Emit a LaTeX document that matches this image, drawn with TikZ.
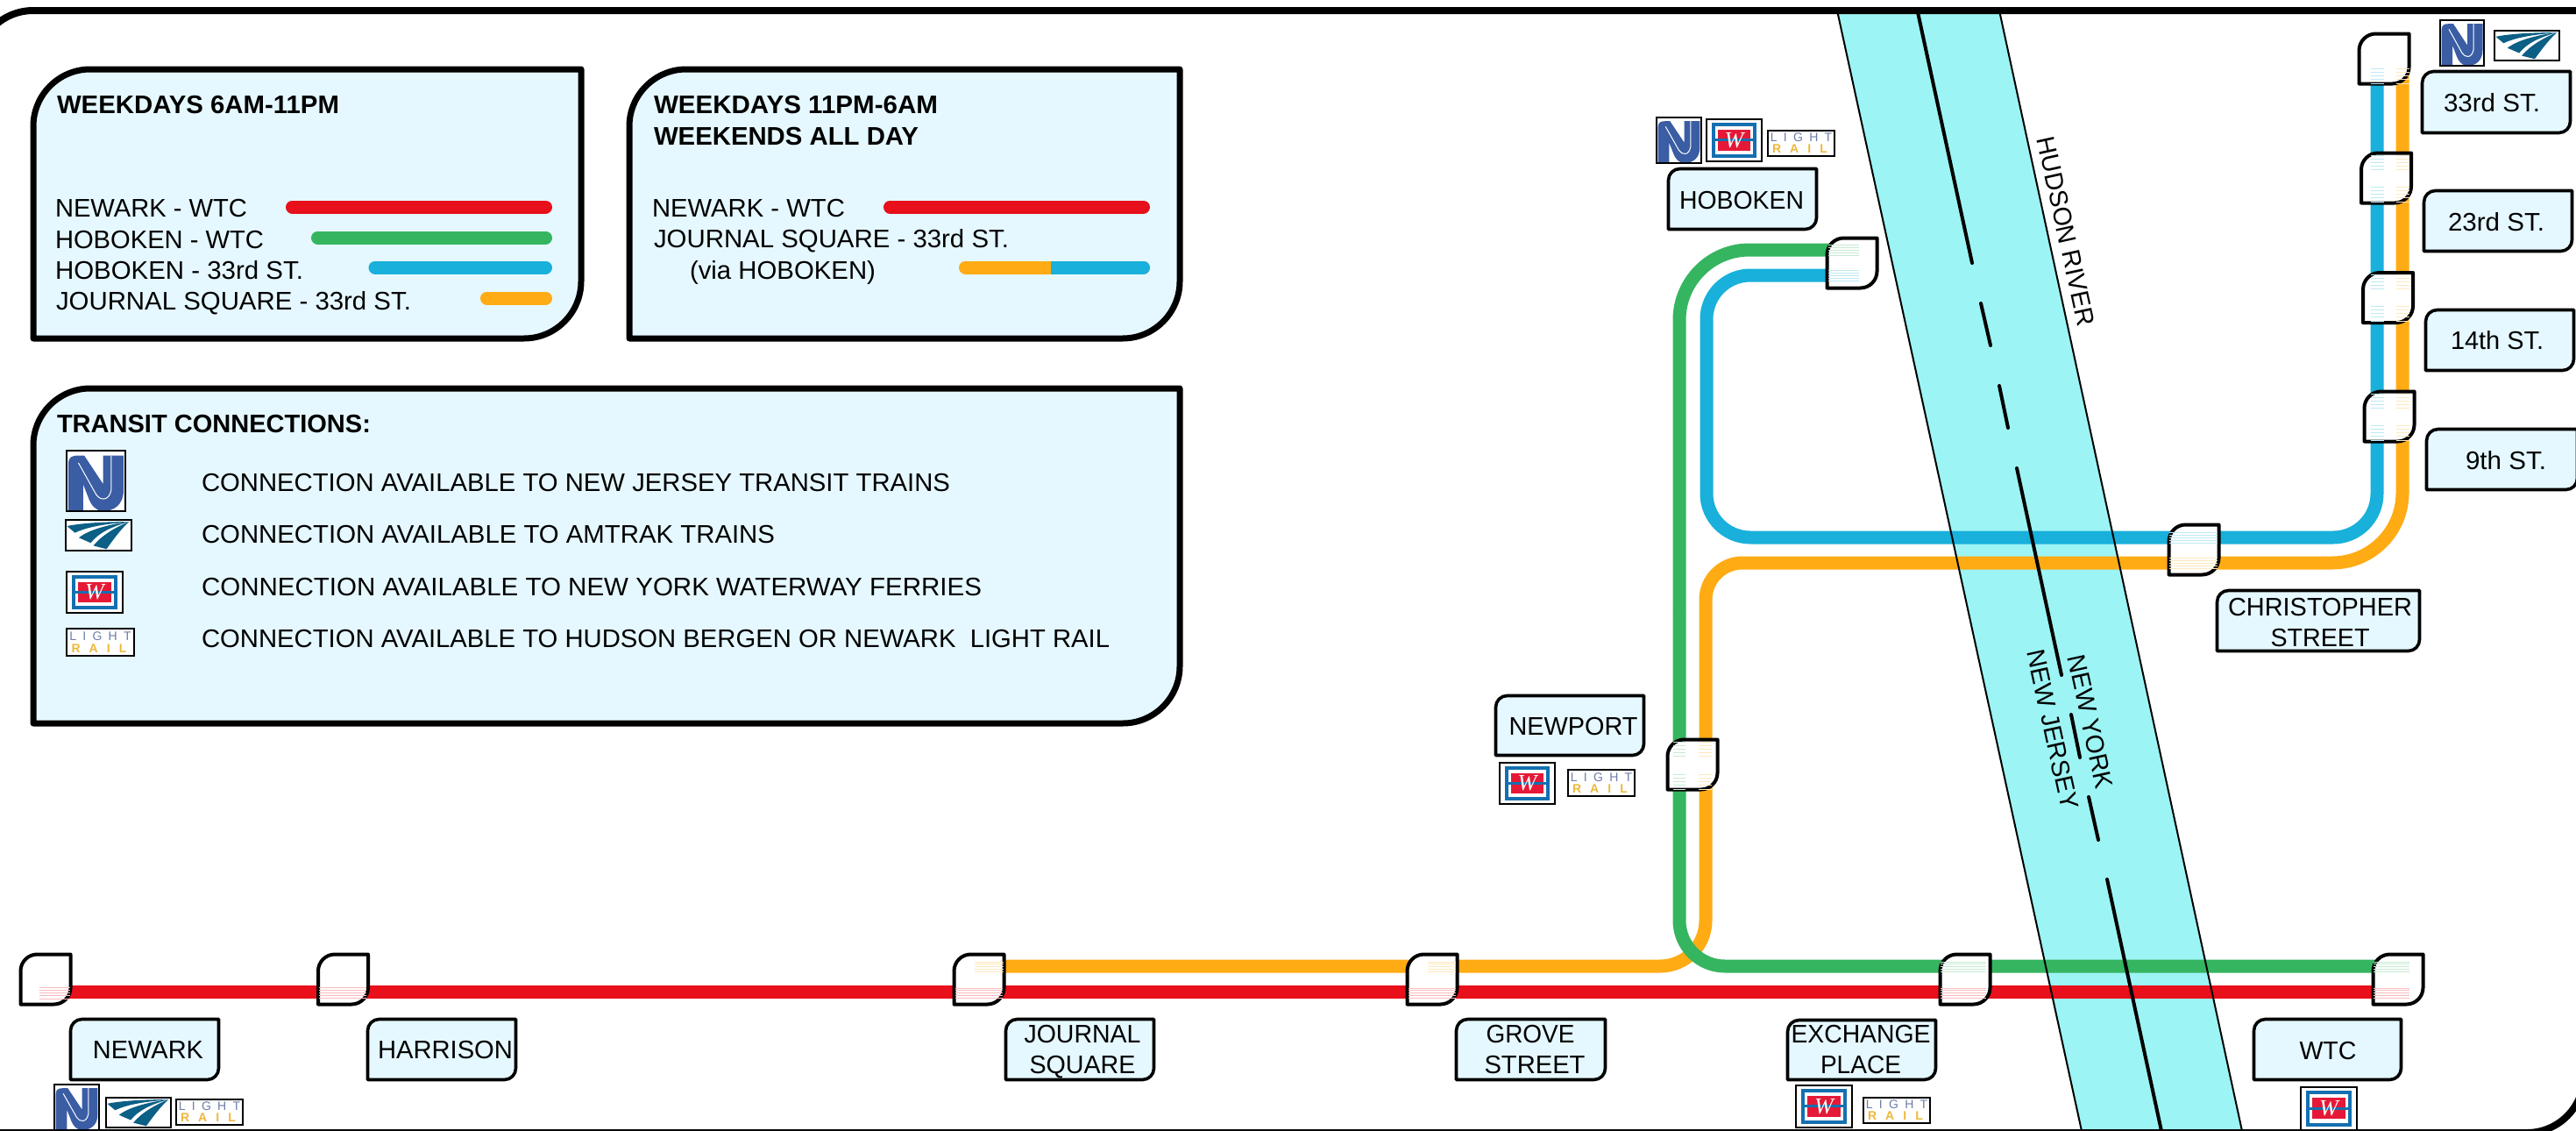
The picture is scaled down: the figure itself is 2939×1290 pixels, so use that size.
\documentclass[tikz,border=0pt]{standalone}
\usepackage{fontspec}
\setmainfont{Liberation Sans}
\newfontfamily\lrtop[LetterSpace=52]{Liberation Sans}
\newfontfamily\lrbot[LetterSpace=72]{Liberation Sans}
\newfontfamily\ferryfont[Ligatures=TeX]{Liberation Serif}
\definecolor{lnred}{HTML}{E8101A}
\definecolor{lngreen}{HTML}{35B560}
\definecolor{lnblue}{HTML}{19B0DB}
\definecolor{lnorange}{HTML}{FFAB14}
\definecolor{boxfill}{HTML}{E5F8FF}
\definecolor{riverc}{HTML}{9DF4F4}
\definecolor{njblue}{HTML}{3A5DA4}
\definecolor{amteal}{HTML}{0C5F85}
\definecolor{ferryblue}{HTML}{1470B0}
\definecolor{ferryred}{HTML}{E51937}
\definecolor{lrgrey}{HTML}{6C7DA8}
\definecolor{lrgold}{HTML}{EDB83C}
\newdimen\pxu \pxu=0.5pt
\newcount\iconno
\tikzset{
  txt/.style={inner sep=0pt,outer sep=0pt,font=\fontsize{14.5}{17}\selectfont},
  boldtxt/.style={txt,font=\fontsize{14.5}{17}\selectfont\bfseries},
  route/.style={line width=7.5pt,line cap=butt,line join=round},
  keyline/.style={line width=7.5pt,line cap=round},
  bigbox/.style={draw=black,fill=boxfill,line width=3.5pt,line join=round},
  labelbox/.style={draw=black,fill=boxfill,line width=1.8pt,line join=round},
  stationbox/.style={draw=black,fill=white,line width=2pt,line join=round},
  framebox/.style={draw=black,line width=4pt},
  riveredge/.style={draw=black,line width=1pt},
  borderdash/.style={draw=black,line width=2pt,line cap=round},
  iconframe/.style={draw=black,line width=1.1pt},
}
% corner box: rounded top-left and bottom-right
\newcommand{\cbox}[6]{%
  \draw[#1] ({#2},{#3+#6}) .. controls ({#2},{#3+.45*#6}) and ({#2+.45*#6},{#3}) .. ({#2+#6},{#3})
    -- ({#4},{#3}) -- ({#4},{#5-#6})
    .. controls ({#4},{#5-.45*#6}) and ({#4-.45*#6},{#5}) .. ({#4-#6},{#5})
    -- ({#2},{#5}) -- cycle;}
\newcommand{\lbox}[4]{\cbox{labelbox}{#1+1.5}{#2+1.5}{#3-1.5}{#4-1.5}{13}}
\newcommand{\stn}[3]{%
  \cbox{stationbox}{#2-28.5}{#3-28.5}{#2+28.5}{#3+28.5}{19}
  \coordinate (#1) at (#2,#3);}
\newcommand{\stp}[5]{%
  \foreach \t in {0,.25,.5,.75,1}
    \draw[line width=.45pt,#5!28] (#1,{#3+\t*(#4-#3)}) -- (#2,{#3+\t*(#4-#3)});}
\newcommand{\fitw}[2]{\resizebox{#1\pxu}{\height}{#2}}
\newcommand{\ctext}[5]{\node[txt,anchor=base] (#1) at (#2,#3) {\fitw{#4}{#5}};}
\newcommand{\ltext}[5]{\node[txt,anchor=base west] (#1) at (#2,#3) {\fitw{#4}{#5}};}
\newcommand{\btext}[5]{\node[boldtxt,anchor=base west] (#1) at (#2,#3) {\fitw{#4}{#5}};}
\newcommand{\njicon}[4]{%
  \pgfmathsetmacro{\iw}{(#3-#1)*0.5}\pgfmathsetmacro{\ih}{(#4-#2)*0.5}
  \begin{scope}[shift={(#1,#2)},x=\iw pt,y=-\ih pt]
    \fill[white] (0,0) rectangle (1,1);
    \fill[njblue] (.03,1) -- (.03,.22) .. controls (.03,.1) and (.1,.08) .. (.2,.08) -- (.3,.08) -- (.62,.55) -- (.62,.08) -- (.97,.08) -- (.97,.65)
      .. controls (.97,.9) and (.8,1) .. (.62,1) .. controls (.5,1) and (.42,.9) .. (.38,.8) -- (.28,.55) -- (.28,1) -- cycle;
    \draw[white,line width=.5pt] (.2,.2) -- (.5,.72) .. controls (.56,.82) and (.72,.85) .. (.76,.65) -- (.76,.08);
    \draw[iconframe] (0,0) rectangle (1,1);
  \end{scope}}
\newcommand{\amicon}[4]{%
  \pgfmathsetmacro{\iw}{(#3-#1)*0.5}\pgfmathsetmacro{\ih}{(#4-#2)*0.5}
  \begin{scope}[shift={(#1,#2)},x=\iw pt,y=-\ih pt]
    \fill[white] (0,0) rectangle (1,1);
    \fill[amteal] (.02,.2) .. controls (.3,.08) and (.7,.06) .. (.96,.06) .. controls (.65,.13) and (.35,.2) .. (.14,.42) -- cycle;
    \fill[amteal] (.2,.58) .. controls (.35,.32) and (.65,.15) .. (.96,.06) .. controls (.7,.22) and (.5,.42) .. (.38,.75) -- cycle;
    \fill[amteal] (.42,.84) .. controls (.55,.5) and (.75,.25) .. (.96,.06) .. controls (.82,.35) and (.72,.65) .. (.62,.95) -- cycle;
    \draw[iconframe] (0,0) rectangle (1,1);
  \end{scope}}
\newcommand{\feicon}[4]{%
  \global\advance\iconno by 1
  \pgfmathsetmacro{\iw}{(#3-#1)*0.5}\pgfmathsetmacro{\ih}{(#4-#2)*0.5}
  \begin{scope}[shift={(#1,#2)},x=\iw pt,y=-\ih pt]
    \fill[white] (0,0) rectangle (1,1);
    \draw[ferryblue,line width=2pt] (.12,.13) rectangle (.88,.87);
    \fill[ferryred] (.2,.25) rectangle (.8,.74);
    \draw[ferryblue,line width=1.6pt,line cap=round] (.14,.495) -- (.86,.495);
    \node[inner sep=0pt,text=white,font=\ferryfont\itshape\fontsize{13}{13}\selectfont] (ferry\the\iconno) at (.5,.5) {W};
    \draw[iconframe] (0,0) rectangle (1,1);
  \end{scope}}
\newcommand{\lricon}[4]{%
  \global\advance\iconno by 1
  \pgfmathsetmacro{\iw}{(#3-#1)*0.5}\pgfmathsetmacro{\ih}{(#4-#2)*0.5}
  \begin{scope}[shift={(#1,#2)},x=\iw pt,y=-\ih pt]
    \fill[white] (0,0) rectangle (1,1);
    \node[inner sep=0pt,anchor=base,text=lrgrey,font=\lrtop\fontsize{7}{7}\selectfont] (lrup\the\iconno) at (.5,.44) {LIGHT};
    \node[inner sep=0pt,anchor=base,text=lrgold,font=\lrbot\fontsize{7}{7}\selectfont\bfseries] (lrdn\the\iconno) at (.48,.88) {RAIL};
    \draw[iconframe,line width=.9pt] (0,0) rectangle (1,1);
  \end{scope}}
\begin{document}
\begin{tikzpicture}[x=0.5pt,y=-0.5pt]
\useasboundingbox (0,0) rectangle (2939,1290);
\fill[white] (0,0) rectangle (2939,1290);

% river
\coordinate (rvA) at (2096,12);
\coordinate (rvB) at (2281,12);
\coordinate (rvC) at (2558,1290);
\coordinate (rvD) at (2375,1290);
\fill[riverc] (rvA) -- (rvB) -- (rvC) -- (rvD) -- cycle;

% route points
\coordinate (rA) at (52,1131.7);
\coordinate (rB) at (2736,1131.7);
\coordinate (gA) at (2113,285);
\coordinate (gB) at (1916,285);
\coordinate (gC) at (1916,700);
\coordinate (gD) at (1916,1102);
\coordinate (gE) at (2736,1102);
\coordinate (bA) at (2113,314);
\coordinate (bB) at (1947,314);
\coordinate (bC) at (1947,613);
\coordinate (bD) at (2712,613);
\coordinate (bE) at (2712,67);
\coordinate (oA) at (1117,1102);
\coordinate (oB) at (1946,1102);
\coordinate (oC) at (1946,800);
\coordinate (oD) at (1946,642);
\coordinate (oE) at (2300,642);
\coordinate (oF) at (2741,642);
\coordinate (oG) at (2741,67);

\draw[route,lnred] (rA) -- (rB);
\draw[route,lnorange,rounded corners=26pt] (oA) -- (oB) -- (oC);
\draw[route,lnorange,rounded corners=21pt] (oC) -- (oD) -- (oE);
\draw[route,lnorange,rounded corners=40pt] (oE) -- (oF) -- (oG);
\draw[route,lngreen,rounded corners=40pt] (gA) -- (gB) -- (gC);
\draw[route,lngreen,rounded corners=26pt] (gC) -- (gD) -- (gE);
\draw[route,lnblue,rounded corners=25pt] (bA) -- (bB) -- (bC) -- (bD) -- (bE);

\draw[riveredge] (rvA) -- (rvD);
\draw[riveredge] (rvB) -- (rvC);
\coordinate (dA1) at (2188,14);  \coordinate (dA2) at (2250,300);
\coordinate (dB1) at (2260,346); \coordinate (dB2) at (2271,394);
\coordinate (dC1) at (2281,440); \coordinate (dC2) at (2291,488);
\coordinate (dD1) at (2301,534); \coordinate (dD2) at (2352,770);
\coordinate (dE1) at (2363,815); \coordinate (dE2) at (2373,864);
\coordinate (dF1) at (2383,909); \coordinate (dF2) at (2394,958);
\coordinate (dG1) at (2404,1003);\coordinate (dG2) at (2466,1290);
\foreach \n in {A,B,C,D,E,F,G} \draw[borderdash] (d\n1) -- (d\n2);
\node[txt,rotate=-77.6] (hudson) at (2357,264) {\fitw{220}{HUDSON RIVER}};
\node[txt,rotate=-77.6] (newyork) at (2385,823) {\fitw{155}{NEW YORK}};
\node[txt,rotate=-77.6] (newjersey) at (2342,832) {\fitw{186}{NEW JERSEY}};

% outer frame
\cbox{framebox}{-27}{12}{2948}{1292}{65}

% stations
\stn{sNewark}{52}{1117}
\stp{45}{80}{1126}{1139}{lnred}
\stn{sHarrison}{391.5}{1117}
\stp{364}{418}{1126}{1138}{lnred}
\stn{sJournal}{1117}{1117}
\stp{1112}{1145}{1097}{1108}{lnorange}
\stp{1090}{1144}{1127}{1138}{lnred}
\stn{sGrove}{1634}{1117}
\stp{1629}{1661}{1097}{1108}{lnorange}
\stp{1607}{1661}{1127}{1138}{lnred}
\stn{sExchange}{2242}{1117}
\stp{2214}{2266}{1097}{1108}{lngreen}
\stp{2214}{2266}{1127}{1138}{lnred}
\stn{sWTC}{2736}{1117}
\stp{2708}{2749}{1097}{1108}{lngreen}
\stp{2708}{2749}{1127}{1138}{lnred}
\stn{sNewport}{1931}{872}
\stp{1909}{1923}{846}{862}{lngreen}
\stp{1909}{1923}{883}{900}{lngreen}
\stp{1938}{1953}{846}{862}{lnorange}
\stp{1938}{1953}{883}{900}{lnorange}
\stn{sHoboken}{2113}{300}
\stp{2086}{2121}{279}{291}{lngreen}
\stp{2086}{2121}{308}{320}{lnblue}
\stn{sChristopher}{2503}{627}
\stp{2475}{2530}{607}{619}{lnblue}
\stp{2475}{2530}{636}{648}{lnorange}
\stn{s33}{2720}{67}
\stp{2704.5}{2719.5}{78}{95}{lnblue}
\stp{2733.5}{2748.5}{78}{95}{lnorange}
\stn{s23}{2722.5}{203}
\stp{2704.5}{2719.5}{177}{193}{lnblue}
\stp{2733.5}{2748.5}{177}{193}{lnorange}
\stp{2704.5}{2719.5}{213}{230}{lnblue}
\stp{2733.5}{2748.5}{213}{230}{lnorange}
\stn{s14}{2724.5}{339.5}
\stp{2704.5}{2719.5}{313}{329}{lnblue}
\stp{2733.5}{2748.5}{313}{329}{lnorange}
\stp{2704.5}{2719.5}{349}{366}{lnblue}
\stp{2733.5}{2748.5}{349}{366}{lnorange}
\stn{s9}{2726}{475}
\stp{2704.5}{2719.5}{449}{465}{lnblue}
\stp{2733.5}{2748.5}{449}{465}{lnorange}
\stp{2704.5}{2719.5}{485}{502}{lnblue}
\stp{2733.5}{2748.5}{485}{502}{lnorange}

% station labels
\lbox{79}{1161}{251}{1233}
\ctext{tNewark}{169}{1207}{126}{NEWARK}
\lbox{418}{1161}{590}{1233}
\ctext{tHarrison}{508}{1207}{154}{HARRISON}
\lbox{1146}{1161}{1318}{1233}
\ctext{tJournalA}{1235}{1189}{133}{JOURNAL}
\ctext{tJournalB}{1235}{1224}{121}{SQUARE}
\lbox{1660}{1161}{1833}{1233}
\ctext{tGroveA}{1746}{1189}{101}{GROVE}
\ctext{tGroveB}{1751}{1224}{115}{STREET}
\lbox{2038}{1162}{2210}{1233}
\ctext{tExchangeA}{2123}{1189}{159}{EXCHANGE}
\ctext{tExchangeB}{2123}{1224}{92}{PLACE}
\lbox{2570}{1161}{2741}{1233}
\ctext{tWTC}{2656}{1208}{65}{WTC}
\lbox{1705}{792}{1877}{863}
\ctext{tNewport}{1795}{838}{147}{NEWPORT}
\lbox{1902}{191}{2074}{263}
\ctext{tHoboken}{1987}{238}{142}{HOBOKEN}
\lbox{2528}{672}{2762}{744}
\ctext{tChrisA}{2647}{702}{210}{CHRISTOPHER}
\ctext{tChrisB}{2647}{737}{113}{STREET}
\lbox{2762}{80}{2934}{153}
\ctext{t33}{2843}{127}{110}{33rd ST.}
\lbox{2764}{216}{2936}{288}
\ctext{t23}{2848}{263}{110}{23rd ST.}
\lbox{2766}{352}{2938}{424}
\ctext{t14}{2849}{398}{106}{14th ST.}
\lbox{2767}{488}{2942}{560}
\ctext{t9}{2859}{535}{92}{9th ST.}

% map icons
\njicon{62}{1237}{113}{1289}
\amicon{121}{1252}{195}{1286}
\lricon{201}{1254}{277}{1283}
\njicon{1890}{134}{1941}{186}
\feicon{1947}{136}{2010}{184}
\lricon{2017}{149}{2093}{178}
\njicon{2784}{23}{2834}{75}
\amicon{2846}{35}{2920}{69}
\feicon{1711}{870}{1774}{917}
\lricon{1789}{878}{1865}{908}
\feicon{2049}{1238}{2113}{1286}
\lricon{2126}{1252}{2202}{1281}
\feicon{2625}{1240}{2689}{1289}

% legend 1
\cbox{bigbox}{38}{79}{663}{386}{65}
\btext{tkA}{65}{129}{322}{WEEKDAYS 6AM-11PM}
\ltext{kA1}{63}{247}{219}{NEWARK - WTC}
\ltext{kA2}{63}{283}{238}{HOBOKEN - WTC}
\ltext{kA3}{63}{318}{283}{HOBOKEN - 33rd ST.}
\ltext{kA4}{64}{353}{405}{JOURNAL SQUARE - 33rd ST.}
\coordinate (lkA1) at (333.5,236); \coordinate (lkA2) at (622.5,236);
\coordinate (lkB1) at (362.5,271); \coordinate (lkB2) at (622.5,271);
\coordinate (lkC1) at (428,305);   \coordinate (lkC2) at (622.5,305);
\coordinate (lkD1) at (555.5,340); \coordinate (lkD2) at (622.5,340);
\draw[keyline,lnred] (lkA1) -- (lkA2);
\draw[keyline,lngreen] (lkB1) -- (lkB2);
\draw[keyline,lnblue] (lkC1) -- (lkC2);
\draw[keyline,lnorange] (lkD1) -- (lkD2);

% legend 2
\cbox{bigbox}{718}{79}{1346}{386}{65}
\btext{tkB1}{746}{129}{324}{WEEKDAYS 11PM-6AM}
\btext{tkB2}{746}{165}{302}{WEEKENDS ALL DAY}
\ltext{kB1}{744}{247}{220}{NEWARK - WTC}
\ltext{kB2}{746}{282}{405}{JOURNAL SQUARE - 33rd ST.}
\ltext{kB3}{787}{318}{212}{(via HOBOKEN)}
\coordinate (lkE1) at (1015.5,236); \coordinate (lkE2) at (1304.5,236);
\coordinate (lkF1) at (1101.5,305); \coordinate (lkF2) at (1304.5,305);
\coordinate (lkF3) at (1199,305); \coordinate (lkF4) at (1290,305);
\draw[keyline,lnred] (lkE1) -- (lkE2);
\draw[keyline,lnorange] (lkF1) -- (lkF2);
\draw[route,lnblue] (lkF3) -- (lkF4);
\draw[keyline,lnblue] (lkF4) -- (lkF2);

% legend 3
\cbox{bigbox}{38}{443}{1346}{825}{65}
\btext{tkC}{65}{493}{358}{TRANSIT CONNECTIONS:}
\njicon{76}{514}{143}{583}
\amicon{75}{593}{150}{628}
\feicon{76}{652}{140}{699}
\lricon{76}{717}{153}{748}
\ltext{kC1}{230}{560}{854}{CONNECTION AVAILABLE TO NEW JERSEY TRANSIT TRAINS}
\ltext{kC2}{230}{619}{654}{CONNECTION AVAILABLE TO AMTRAK TRAINS}
\ltext{kC3}{230}{679}{890}{CONNECTION AVAILABLE TO NEW YORK WATERWAY FERRIES}
\ltext{kC4}{230}{738}{1036}{CONNECTION AVAILABLE TO HUDSON BERGEN OR NEWARK\ \ LIGHT RAIL}
\end{tikzpicture}
\end{document}
